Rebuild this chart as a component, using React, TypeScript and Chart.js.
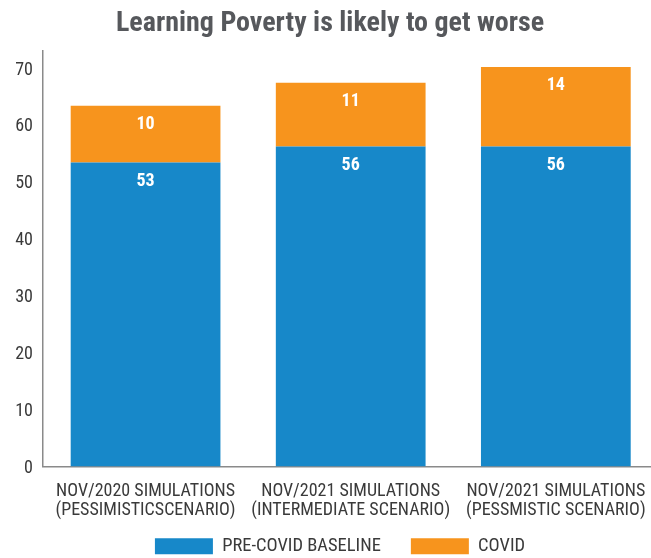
import React, { useEffect, useRef } from "react";
import { Chart, registerables } from "chart.js";

Chart.register(...registerables);

const categories: string[][] = [
  ["NOV/2020 SIMULATIONS", "(PESSIMISTICSCENARIO)"],
  ["NOV/2021 SIMULATIONS", "(INTERMEDIATE SCENARIO)"],
  ["NOV/2021 SIMULATIONS", "(PESSMISTIC SCENARIO)"],
];
const baselineValues = [53.4, 56.2, 56.2];
const covidValues = [10.0, 11.2, 14.0];
const baselineLabels = ["53", "56", "56"];
const covidLabels = ["10", "11", "14"];
const seriesNames = ["PRE-COVID BASELINE", "COVID"];
const titleText = "Learning Poverty is likely to get worse";

const FONT = "'Roboto', 'DejaVu Sans Condensed', sans-serif";

const valueLabelPlugin = {
  id: "valueLabels",
  afterDatasetsDraw(chart: any) {
    const ctx = chart.ctx;
    const labelSets = [baselineLabels, covidLabels];
    ctx.save();
    ctx.fillStyle = "#ffffff";
    ctx.font = `condensed bold 18px ${FONT}`;
    ctx.textAlign = "center";
    ctx.textBaseline = "middle";
    chart.data.datasets.forEach((_ds: any, di: number) => {
      const meta = chart.getDatasetMeta(di);
      meta.data.forEach((el: any, i: number) => {
        ctx.fillText(labelSets[di][i], el.x, el.y + 19);
      });
    });
    ctx.restore();
  },
};

const legendPlacePlugin = {
  id: "legendPlace",
  afterLayout(chart: any) {
    const lg = chart.legend;
    if (!lg) return;
    const h = lg.bottom - lg.top;
    lg.top = 507;
    lg.bottom = 507 + h;
    lg.left += 10;
    lg.right += 10;
  },
};

export default function App() {
  const ref = useRef<HTMLCanvasElement | null>(null);
  useEffect(() => {
    if (!ref.current) return;
    const chart = new Chart(ref.current, {
      type: "bar",
      data: {
        labels: categories,
        datasets: [
          {
            label: seriesNames[0],
            data: baselineValues,
            backgroundColor: "#1788C9",
            borderWidth: 0,
          },
          {
            label: seriesNames[1],
            data: covidValues,
            backgroundColor: "#F7941D",
            borderWidth: 0,
          },
        ],
      },
      options: {
        responsive: true,
        maintainAspectRatio: false,
        animation: false,
        layout: { padding: { left: 0, right: 2, top: 0, bottom: 0 } },
        datasets: { bar: { categoryPercentage: 1, barPercentage: 0.73 } },
        scales: {
          x: {
            stacked: true,
            grid: { display: false, drawTicks: false, tickLength: 0 },
            border: { display: true, color: "#8a8a8a", width: 1.5 },
            ticks: {
              color: "#3a3a3a",
              font: { family: FONT, size: 18, weight: "condensed", lineHeight: 1.05 },
              padding: 16,
              maxRotation: 0,
              autoSkip: false,
            },
            afterFit(scale: any) {
              scale.height = 60;
            },
          },
          y: {
            stacked: true,
            min: 0,
            max: 73,
            grid: { display: false, drawTicks: false, tickLength: 0 },
            border: { display: true, color: "#8a8a8a", width: 1.5 },
            ticks: {
              stepSize: 10,
              includeBounds: false,
              color: "#3a3a3a",
              font: { family: FONT, size: 18, weight: "condensed" },
              padding: 10,
              labelOffset: 2,
            },
            afterFit(scale: any) {
              scale.width = 43;
            },
          },
        },
        plugins: {
          title: {
            display: true,
            text: titleText,
            color: "#56585c",
            font: { family: FONT, size: 28, weight: "condensed bold", lineHeight: 1.2 },
            padding: { top: 7, bottom: 10.4 },
          },
          legend: {
            position: "bottom",
            labels: {
              boxWidth: 58,
              boxHeight: 16,
              padding: 30,
              color: "#3a3a3a",
              font: { family: FONT, size: 18.5, weight: "condensed" },
            },
          },
          tooltip: { enabled: false },
        },
      },
      plugins: [valueLabelPlugin, legendPlacePlugin],
    } as any);
    return () => chart.destroy();
  }, []);

  return (
    <div
      style={{
        position: "absolute",
        left: 0,
        top: 0,
        width: 651,
        height: 558,
        overflow: "hidden",
        background: "#ffffff",
      }}
    >
      <div style={{ position: "relative", width: 662, height: 585 }}>
        <canvas ref={ref} />
      </div>
    </div>
  );
}
